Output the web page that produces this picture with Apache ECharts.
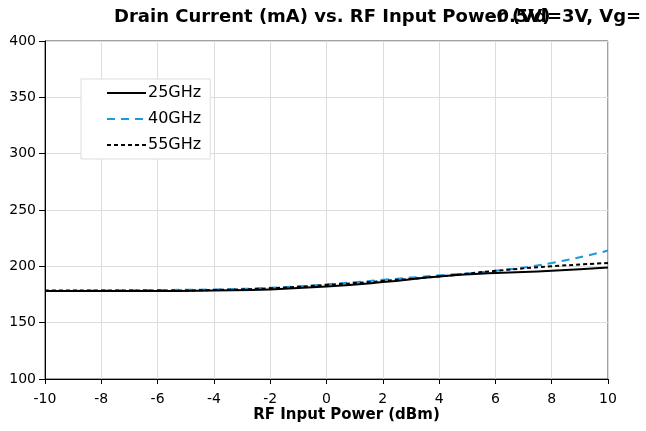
<!DOCTYPE html>
<html>
<head>
<meta charset="utf-8">
<script src="https://cdn.jsdelivr.net/npm/echarts@6/dist/echarts.min.js"></script>
<style>html,body{margin:0;padding:0;background:#fff;}#c{width:646px;height:431px;}</style>
</head>
<body>
<div id="c"></div>
<script>
var xValues = [-10, -8, -6, -4, -2, 0, 2, 4, 6, 8, 10];
var s25 = [178, 178, 178, 178.5, 179.5, 182, 186, 191, 194, 196, 199];
var s40 = [178, 178.5, 179, 179.5, 181, 184, 188, 192, 196, 203, 214];
var s55 = [178.5, 178.5, 178.5, 179, 180.5, 183.5, 187, 191, 196, 200, 203];
var seriesNames = ['25GHz', '40GHz', '55GHz'];
var titleLine1 = 'Drain Current (mA) vs. RF Input Power (Vd=3V, Vg=';
var titleLine2 = '-0.5V)';
var xTitle = 'RF Input Power (dBm)';

function pairs(arr){ return xValues.map(function(x,i){return [x, arr[i]];}); }

var chart = echarts.init(document.getElementById('c'), null, {renderer:'canvas'});
var font = 'DejaVu Sans';
chart.setOption({
  animation: false,
  textStyle: {fontFamily: font},
  grid: {left: 45, right: 38, top: 41, bottom: 52, show: true, borderColor: '#444', borderWidth: 1,
         containLabel: false, outerBoundsMode: 'none'},
  graphic: [
    {type:'text', left: 114, top: 8, style:{text: titleLine1, font: 'bold 18px DejaVu Sans', fill:'#000'}},
    {type:'text', left: 489, top: 8, style:{text: titleLine2, font: 'bold 18px DejaVu Sans', fill:'#000'}}
  ],
  legend: {
    left: 81, top: 79, orient: 'vertical',
    backgroundColor: '#fff', borderColor: '#ddd', borderWidth: 1,
    padding: [6, 9, 6, 25], itemGap: 10, itemWidth: 39, itemHeight: 14,
    itemStyle: {opacity: 0},
    textStyle: {fontFamily: font, fontSize: 16, color: '#000', padding: [0,0,0,-3]},
    data: seriesNames
  },
  xAxis: {
    type: 'value', min: -10, max: 10, interval: 2,
    name: xTitle, nameLocation: 'middle', nameGap: 29, nameMoveOverlap: false,
    nameTextStyle: {fontFamily: font, fontSize: 15, fontWeight: 'bold', color: '#000', padding: [0,0,0,40]},
    axisLine: {show: true, onZero: false, lineStyle: {color: '#000'}},
    axisTick: {show: true, length: 5, inside: false, lineStyle: {color: '#000'}},
    axisLabel: {fontFamily: font, fontSize: 14, color: '#000', margin: 13},
    splitLine: {show: true, lineStyle: {color: '#ddd'}}
  },
  yAxis: {
    type: 'value', min: 100, max: 400, interval: 50,
    axisLine: {show: true, onZero: false, lineStyle: {color: '#000'}},
    axisTick: {show: true, length: 6, lineStyle: {color: '#000'}},
    axisLabel: {fontFamily: font, fontSize: 14, color: '#000', margin: 9},
    splitLine: {show: true, lineStyle: {color: '#ddd'}}
  },
  series: [
    {name: seriesNames[0], type: 'line', data: pairs(s25), smooth: true, symbol: 'none', z: 3,
     lineStyle: {color: '#000', width: 2, type: 'solid'}, itemStyle: {color: '#000'}},
    {name: seriesNames[1], type: 'line', data: pairs(s40), smooth: true, symbol: 'none', z: 2,
     lineStyle: {color: '#1a9be0', width: 2, type: [8, 6]}, itemStyle: {color: '#1a9be0'}},
    {name: seriesNames[2], type: 'line', data: pairs(s55), smooth: true, symbol: 'none', z: 4,
     lineStyle: {color: '#000', width: 2, type: [4, 3]}, itemStyle: {color: '#000'}}
  ]
});
</script>
</body>
</html>
